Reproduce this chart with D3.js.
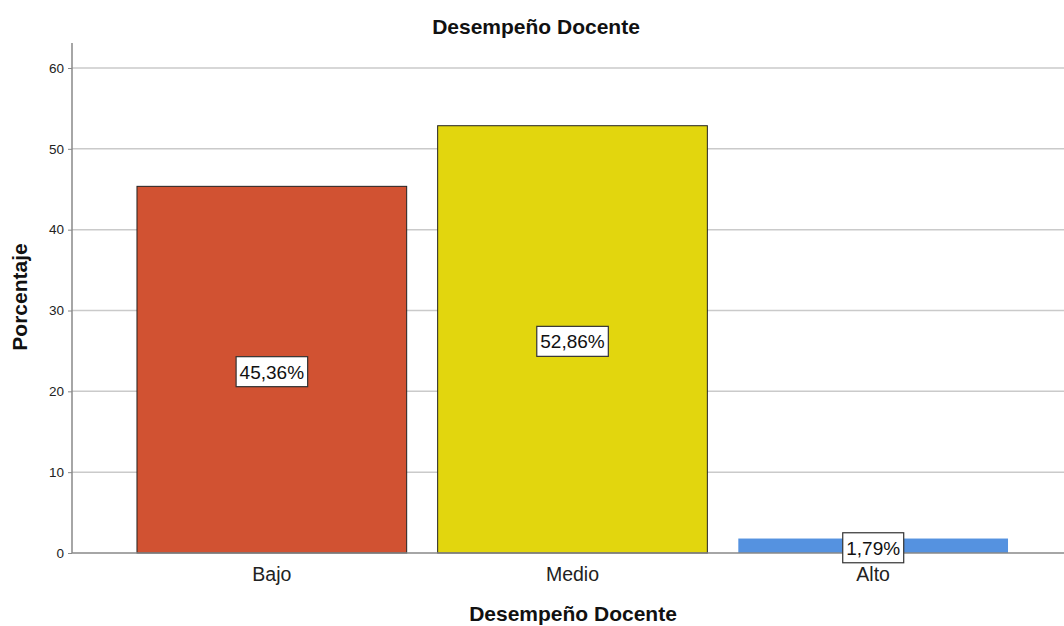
<!DOCTYPE html>
<html>
<head>
<meta charset="utf-8">
<script src="https://cdn.jsdelivr.net/npm/d3@7"></script>
<style>
  body { margin: 0; background: #fff; }
  text { font-family: "Liberation Sans", Arial, sans-serif; }
</style>
</head>
<body>
<svg id="chart"></svg>
<script>
const categories = ['Bajo', 'Medio', 'Alto']
const percentages = [45.36, 52.86, 1.79]
const barColors = ['#d15232', '#e2d60e', '#5592e0']
const yTicks = [0, 10, 20, 30, 40, 50, 60]

const width = 1064
const height = 626
const svg = d3.select('#chart').attr('width', width).attr('height', height)

const x = d3.scaleBand()
  .domain(categories)
  .range([121.5, 1023.5])
  .paddingInner(0.103)
  .paddingOuter(0.0515)

const y = d3.scaleLinear().domain([0, 60]).range([553, 68])
const axisLeft = 72

// gridlines
svg.append('g').selectAll('line')
  .data(yTicks.filter(t => t > 0))
  .join('line')
  .attr('x1', axisLeft).attr('x2', width)
  .attr('y1', d => y(d)).attr('y2', d => y(d))
  .attr('stroke', '#cacaca').attr('stroke-width', 1.5)

// y axis
const yAxis = svg.append('g')
  .attr('transform', `translate(${axisLeft},0)`)
  .call(d3.axisLeft(y).tickValues(yTicks).tickSize(4).tickPadding(4))
yAxis.select('.domain').remove()
yAxis.selectAll('.tick line').attr('stroke', '#888')
yAxis.selectAll('.tick text').attr('font-size', 13.5).attr('fill', '#222')
svg.append('line')
  .attr('x1', axisLeft).attr('x2', axisLeft)
  .attr('y1', 43).attr('y2', y(0))
  .attr('stroke', '#888').attr('stroke-width', 1.5)

// bars
svg.append('g').selectAll('rect')
  .data(categories)
  .join('rect')
  .attr('x', d => x(d))
  .attr('width', x.bandwidth())
  .attr('y', (d, i) => y(percentages[i]))
  .attr('height', (d, i) => y(0) - y(percentages[i]))
  .attr('fill', (d, i) => barColors[i])
  .attr('stroke', (d, i) => percentages[i] < 5 ? 'none' : '#222')
  .attr('stroke-width', 1)

// baseline
svg.append('line')
  .attr('x1', axisLeft).attr('x2', width)
  .attr('y1', y(0)).attr('y2', y(0))
  .attr('stroke', '#888').attr('stroke-width', 1.5)

// value labels
const fmt = v => v.toFixed(2).replace('.', ',') + '%'
const labels = svg.append('g').selectAll('g')
  .data(categories)
  .join('g')
  .attr('transform', (d, i) => `translate(${x(d) + x.bandwidth() / 2},${(y(0) + y(percentages[i])) / 2 + 2})`)
labels.each(function (d, i) {
  const g = d3.select(this)
  const t = g.append('text')
    .attr('text-anchor', 'middle')
    .attr('dy', '0.36em')
    .attr('font-size', 19)
    .attr('fill', '#111')
    .text(fmt(percentages[i]))
  const bb = t.node().getBBox()
  g.insert('rect', 'text')
    .attr('x', bb.x - 3.5).attr('y', -15)
    .attr('width', bb.width + 7).attr('height', 30)
    .attr('fill', '#fff').attr('stroke', '#333').attr('stroke-width', 1.2)
})

// category labels
svg.append('g').selectAll('text')
  .data(categories)
  .join('text')
  .attr('x', d => x(d) + x.bandwidth() / 2)
  .attr('y', 581)
  .attr('text-anchor', 'middle')
  .attr('font-size', 19.5)
  .attr('fill', '#222')
  .text(d => d)

// titles
svg.append('text')
  .attr('x', 536).attr('y', 34)
  .attr('text-anchor', 'middle')
  .attr('font-size', 21).attr('font-weight', 'bold').attr('fill', '#111')
  .text('Desempeño Docente')

svg.append('text')
  .attr('x', 573).attr('y', 621)
  .attr('text-anchor', 'middle')
  .attr('font-size', 21).attr('font-weight', 'bold').attr('fill', '#111')
  .text('Desempeño Docente')

svg.append('text')
  .attr('transform', 'translate(27,297) rotate(-90)')
  .attr('text-anchor', 'middle')
  .attr('font-size', 21).attr('font-weight', 'bold').attr('fill', '#111')
  .text('Porcentaje')
</script>
</body>
</html>
